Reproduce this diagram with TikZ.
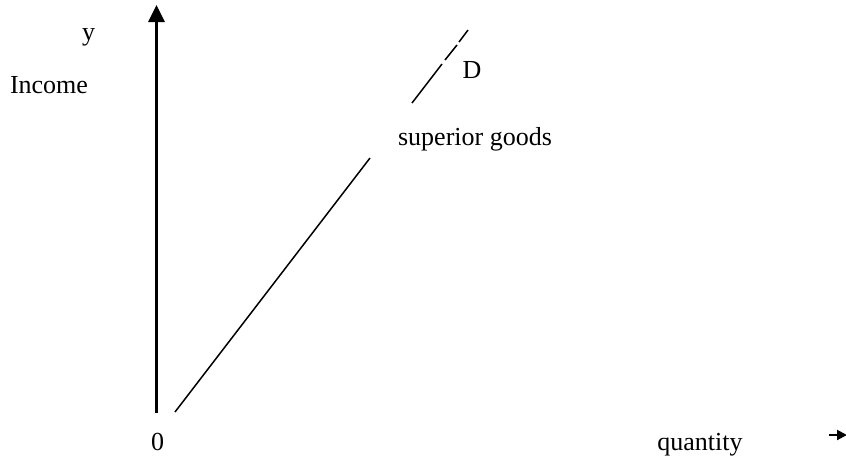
\documentclass[tikz,border=0pt]{standalone}
\usepackage{fontspec}
\setmainfont{Liberation Serif}
\usetikzlibrary{arrows.meta}
\begin{document}
\begin{tikzpicture}[x=1pt,y=-1pt,
  lbl/.style={anchor=base,inner sep=0pt,font=\fontsize{26}{30}\selectfont},
  axisline/.style={line width=3pt},
  curve/.style={line width=1.5pt}]
\useasboundingbox (0,0) rectangle (846,458);
% axes
\coordinate (o) at (156.5,413);
\coordinate (ytop) at (156.5,5);
\draw[axisline,-{Triangle[width=16pt,length=17pt]}] (o) -- (ytop);
\coordinate (xs) at (829,435);
\coordinate (xe) at (847,435);
\draw[line width=2pt,-{Triangle[width=10pt,length=10pt]}] (xs) -- (xe);
% demand curve segments
\coordinate (c0) at (175,412);
\coordinate (c1) at (370,158);
\coordinate (c2) at (412,103);
\coordinate (c3) at (442,64);
\coordinate (c4) at (445,60);
\coordinate (c5) at (457,45);
\coordinate (c6) at (459,42);
\coordinate (c7) at (468,30);
\draw[curve] (c0) -- (c1);
\draw[curve] (c2) -- (c3);
\draw[curve] (c4) -- (c5);
\draw[curve] (c6) -- (c7);
% labels
\node[lbl] (ylab) at (88.5,40) {y};
\node[lbl] (inc) at (49,93) {Income};
\node[lbl] (zero) at (157.5,450) {0};
\node[lbl] (qty) at (700,450) {quantity};
\node[lbl] (dlab) at (472,78) {D};
\node[lbl] (sup) at (475,145) {superior goods};
\end{tikzpicture}
\end{document}
